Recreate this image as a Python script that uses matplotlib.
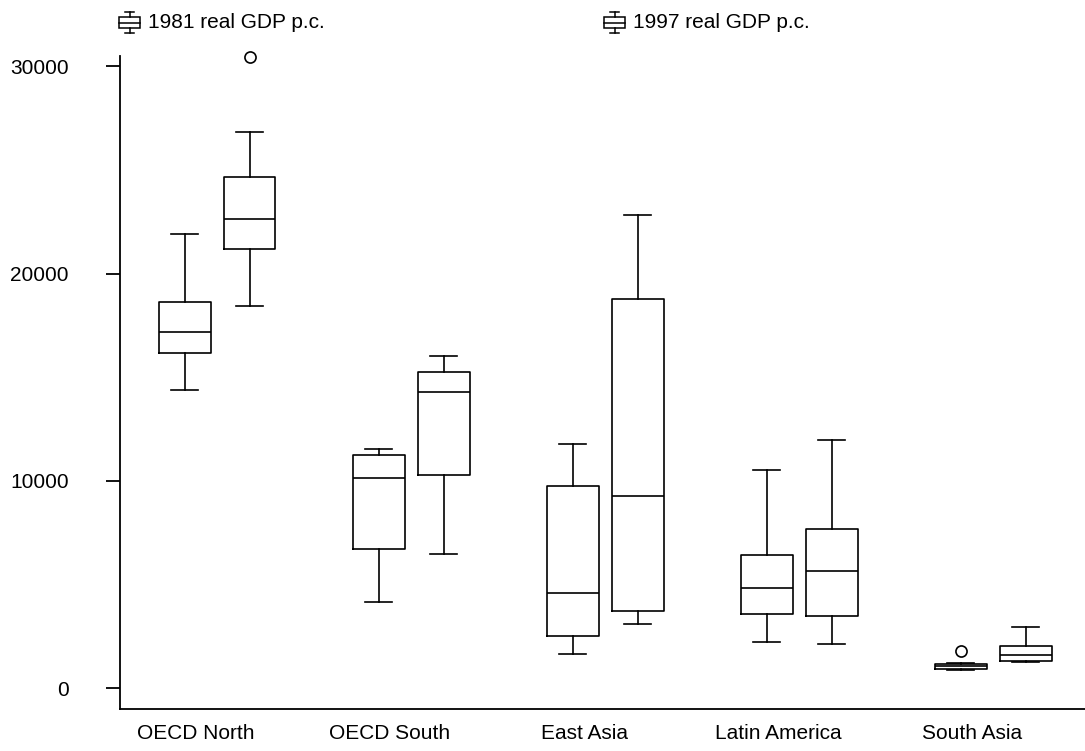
import matplotlib
matplotlib.use("Agg")
import matplotlib.pyplot as plt
from matplotlib.lines import Line2D
from matplotlib.patches import Rectangle

plt.rcParams['font.family'] = ['Liberation Sans', 'DejaVu Sans']

regions = ["OECD North", "OECD South", "East Asia", "Latin America", "South Asia"]
series = ["1981 real GDP p.c.", "1997 real GDP p.c."]

# lower whisker, q1, median, q3, upper whisker
gdp_1981 = [
    [14390, 16170, 17180, 18640, 21900],
    [4160, 6720, 10150, 11270, 11550],
    [1640, 2540, 4580, 9760, 11780],
    [2230, 3600, 4850, 6430, 10510],
    [870, 945, 1075, 1186, 1234],
]
gdp_1997 = [
    [18430, 21200, 22640, 24670, 26820],
    [6480, 10300, 14300, 15270, 16040],
    [3090, 3740, 9290, 18770, 22820],
    [2140, 3500, 5670, 7700, 11970],
    [1250, 1316, 1620, 2025, 2970],
]
outliers_1981 = [[], [], [], [], [1800]]
outliers_1997 = [[30450], [], [], [], []]

W, H = 1085, 751
fig = plt.figure(figsize=(W / 100, H / 100), dpi=100)
ax = fig.add_axes([120 / W, 1 - 709 / H, 1 - 120 / W, (709 - 56) / H])


def make_stats(values, outliers):
    out = []
    for (lo, q1, med, q3, hi), fl in zip(values, outliers):
        out.append(dict(whislo=lo, q1=q1, med=med, q3=q3, whishi=hi, fliers=fl))
    return out


lw = 1.2
style = dict(
    widths=0.268,
    capwidths=0.14,
    showfliers=True,
    boxprops=dict(color="black", linewidth=lw),
    medianprops=dict(color="black", linewidth=lw),
    whiskerprops=dict(color="black", linewidth=lw),
    capprops=dict(color="black", linewidth=lw),
    flierprops=dict(marker="o", markerfacecolor="none", markeredgecolor="black",
                    markersize=8, markeredgewidth=1.2),
)

offset = 0.1675
pos = list(range(len(regions)))
b1 = ax.bxp(make_stats(gdp_1981, outliers_1981), positions=[p - offset for p in pos], **style)
b2 = ax.bxp(make_stats(gdp_1997, outliers_1997), positions=[p + offset for p in pos], **style)
for b in (b1, b2):
    for fl in b["fliers"]:
        fl.set_clip_on(False)

ax.set_xlim(-0.5, 4.474)
ax.set_ylim(-1000, 30490)
ax.set_yticks([0, 10000, 20000, 30000])
ax.set_yticklabels(["0", "10000", "20000", "30000"])
ax.set_xticks([p - 0.108 for p in pos])
ax.set_xticklabels(regions)

ax.spines["top"].set_visible(False)
ax.spines["right"].set_visible(False)
ax.spines["left"].set_linewidth(1.3)
ax.spines["bottom"].set_linewidth(1.3)
ax.tick_params(axis="y", direction="out", length=10, width=1.3, pad=27, labelsize=15)
ax.tick_params(axis="x", length=0, pad=11, labelsize=15)


# legend: little box-plot glyph followed by the series name
def legend_entry(x0, label):
    def fx(x):
        return x / W

    def fy(y):
        return 1 - y / H

    tr = fig.transFigure
    cx = x0 + 10.5
    fig.add_artist(Rectangle((fx(x0), fy(28)), 21 / W, 11 / H, transform=tr,
                             fill=False, edgecolor="black", linewidth=1.1))
    fig.add_artist(Line2D([fx(x0), fx(x0 + 21)], [fy(22.5), fy(22.5)], transform=tr,
                          color="black", linewidth=1.1))
    fig.add_artist(Line2D([fx(cx), fx(cx)], [fy(12), fy(17)], transform=tr,
                          color="black", linewidth=1.1))
    fig.add_artist(Line2D([fx(cx), fx(cx)], [fy(28), fy(33)], transform=tr,
                          color="black", linewidth=1.1))
    for yy in (12, 33):
        fig.add_artist(Line2D([fx(cx - 4.5), fx(cx + 4.5)], [fy(yy), fy(yy)], transform=tr,
                              color="black", linewidth=1.1))
    fig.text(fx(x0 + 29), fy(22), label, fontsize=15, va="center", ha="left")


legend_entry(119, series[0])
legend_entry(604, series[1])

fig.savefig("out.png", dpi=100)
